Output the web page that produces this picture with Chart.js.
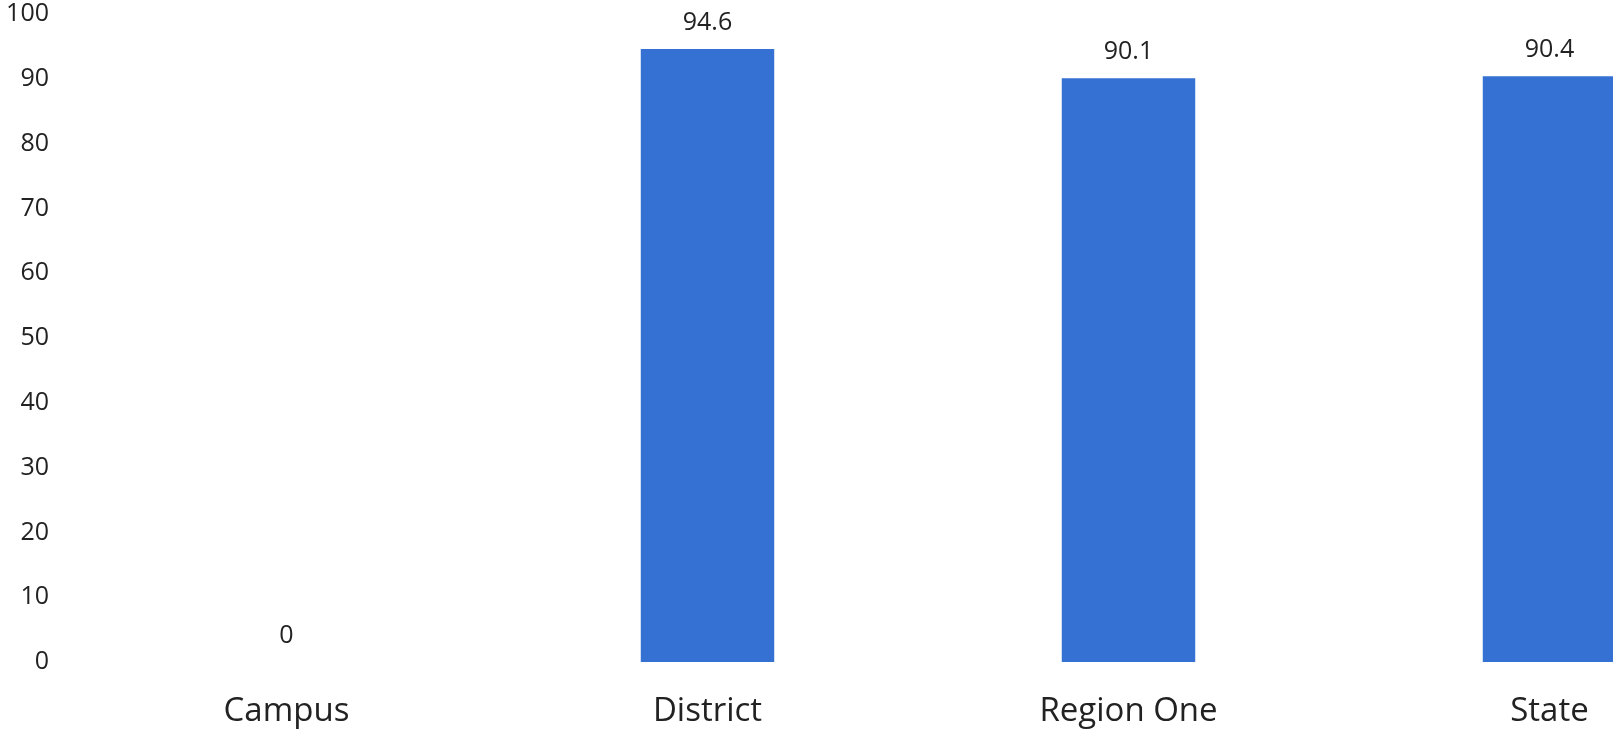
<!DOCTYPE html>
<html>
<head>
<meta charset="utf-8">
<script src="https://cdn.jsdelivr.net/npm/chart.js@4/dist/chart.umd.min.js"></script>
<style>
html,body{margin:0;padding:0;background:#fff;overflow:hidden;width:1613px;height:732px;}
#wrap{position:absolute;left:0;top:0;width:1760px;height:732px;}
</style>
</head>
<body>
<div id="wrap"><canvas id="c" width="1760" height="732"></canvas></div>
<script>
const categories = ["Campus", "District", "Region One", "State"];
const values = [0, 94.6, 90.1, 90.4];
const yTicks = [0, 10, 20, 30, 40, 50, 60, 70, 80, 90, 100];

const barColor = "#3471d3";

const dataLabels = {
  id: "dataLabels",
  afterDatasetsDraw(chart) {
    const ctx = chart.ctx;
    const meta = chart.getDatasetMeta(0);
    ctx.save();
    ctx.font = "25px 'Open Sans'";
    ctx.fillStyle = "#222";
    ctx.textAlign = "center";
    ctx.textBaseline = "middle";
    meta.data.forEach((bar, i) => {
      ctx.fillText(String(values[i]), bar.x, bar.y - 26);
    });
    ctx.restore();
  }
};

new Chart(document.getElementById("c"), {
  type: "bar",
  data: {
    labels: categories,
    datasets: [{
      data: values,
      backgroundColor: barColor,
      borderWidth: 0,
      categoryPercentage: 1,
      barPercentage: 0.317
    }]
  },
  options: {
    responsive: false,
    animation: false,
    layout: { padding: { top: 14, right: 0, left: 0, bottom: 0 } },
    plugins: { legend: { display: false }, tooltip: { enabled: false } },
    scales: {
      x: {
        grid: { display: false, drawTicks: false },
        border: { display: false },
        ticks: { color: "#222", font: { family: "'Open Sans'", size: 33 }, padding: 30, maxRotation: 0 },
        afterFit(s) { s.height = 70; }
      },
      y: {
        min: 0, max: 100,
        afterBuildTicks(s) { s.ticks = yTicks.map(v => ({ value: v })); },
        grid: { display: false, drawTicks: false },
        border: { display: false },
        ticks: { color: "#222", font: { family: "'Open Sans'", size: 25 }, padding: 27 },
        afterFit(s) { s.width = 76; s.paddingTop = 0; s.paddingBottom = 0; }
      }
    }
  },
  plugins: [dataLabels]
});
</script>
</body>
</html>
